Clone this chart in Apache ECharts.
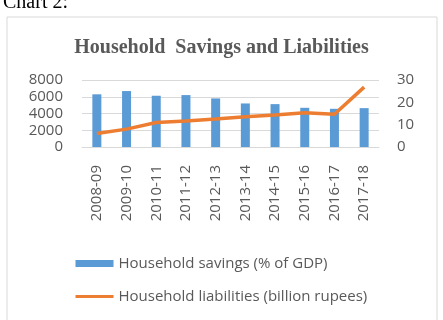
<!DOCTYPE html>
<html>
<head>
<meta charset="utf-8">
<script src="https://cdn.jsdelivr.net/npm/echarts@6/dist/echarts.min.js"></script>
<style>
  html, body { margin: 0; padding: 0; background: #fff; }
  #chart { width: 443px; height: 320px; }
</style>
</head>
<body>
<div id="chart"></div>
<script>
// data
const years = ['2008-09', '2009-10', '2010-11', '2011-12', '2012-13', '2013-14', '2014-15', '2015-16', '2016-17', '2017-18']
const savings = [6290, 6680, 6120, 6200, 5800, 5200, 5120, 4680, 4560, 4640]
const liabilities = [6.0, 8.0, 11.0, 11.6, 12.5, 13.5, 14.3, 15.3, 14.7, 26.8]
const leftTicks = [0, 8000, 2000]
const rightTicks = [0, 30, 10]

const gray = '#595959'
const font = '"Open Sans", sans-serif'

let chart = echarts.init(document.getElementById('chart'))
let option = {
  animation: false,
  graphic: [
    {
      type: 'rect',
      shape: { x: 7, y: 17, width: 430, height: 310 },
      style: { fill: 'none', stroke: '#d9d9d9', lineWidth: 1 },
    },
    {
      type: 'text',
      left: 3,
      top: -7,
      style: { text: 'Chart 2:', font: '20px "Liberation Serif", serif', fill: '#000' },
    },
  ],
  title: {
    text: 'Household  Savings and Liabilities',
    left: 'center',
    top: 33,
    textStyle: {
      fontFamily: '"Liberation Serif", serif',
      fontWeight: 'bold',
      fontSize: 20,
      color: gray,
    },
  },
  legend: {
    orient: 'vertical',
    left: 69,
    top: 251,
    itemWidth: 38,
    itemHeight: 7,
    itemGap: 18,
    textStyle: { fontFamily: font, fontSize: 15, color: gray },
    data: [
      { name: 'Household savings (% of GDP)', icon: 'rect' },
      { name: 'Household liabilities (billion rupees)', itemStyle: { opacity: 0 }, lineStyle: { width: 3 } },
    ],
  },
  grid: { left: 82, right: 64, top: 80, bottom: 173 },
  xAxis: {
    type: 'category',
    data: years,
    axisLine: { lineStyle: { color: '#d9d9d9' } },
    axisTick: { show: false },
    axisLabel: { rotate: 90, margin: 18, fontFamily: font, fontSize: 15, color: gray },
  },
  yAxis: [
    {
      type: 'value',
      min: leftTicks[0],
      max: leftTicks[1],
      interval: leftTicks[2],
      axisLabel: { margin: 19, fontFamily: font, fontSize: 15, color: gray, formatter: (v) => String(v) },
      splitLine: { lineStyle: { color: '#d9d9d9' } },
    },
    {
      type: 'value',
      min: rightTicks[0],
      max: rightTicks[1],
      interval: rightTicks[2],
      axisLabel: { margin: 18, fontFamily: font, fontSize: 15, color: gray },
      splitLine: { show: false },
    },
  ],
  series: [
    {
      name: 'Household savings (% of GDP)',
      type: 'bar',
      data: savings,
      barWidth: 9,
      itemStyle: { color: '#5b9bd5' },
    },
    {
      name: 'Household liabilities (billion rupees)',
      type: 'line',
      yAxisIndex: 1,
      data: liabilities,
      symbol: 'none',
      lineStyle: { color: '#ed7d31', width: 3.5 },
      itemStyle: { color: '#ed7d31' },
    },
  ],
}
chart.setOption(option)
</script>
</body>
</html>
